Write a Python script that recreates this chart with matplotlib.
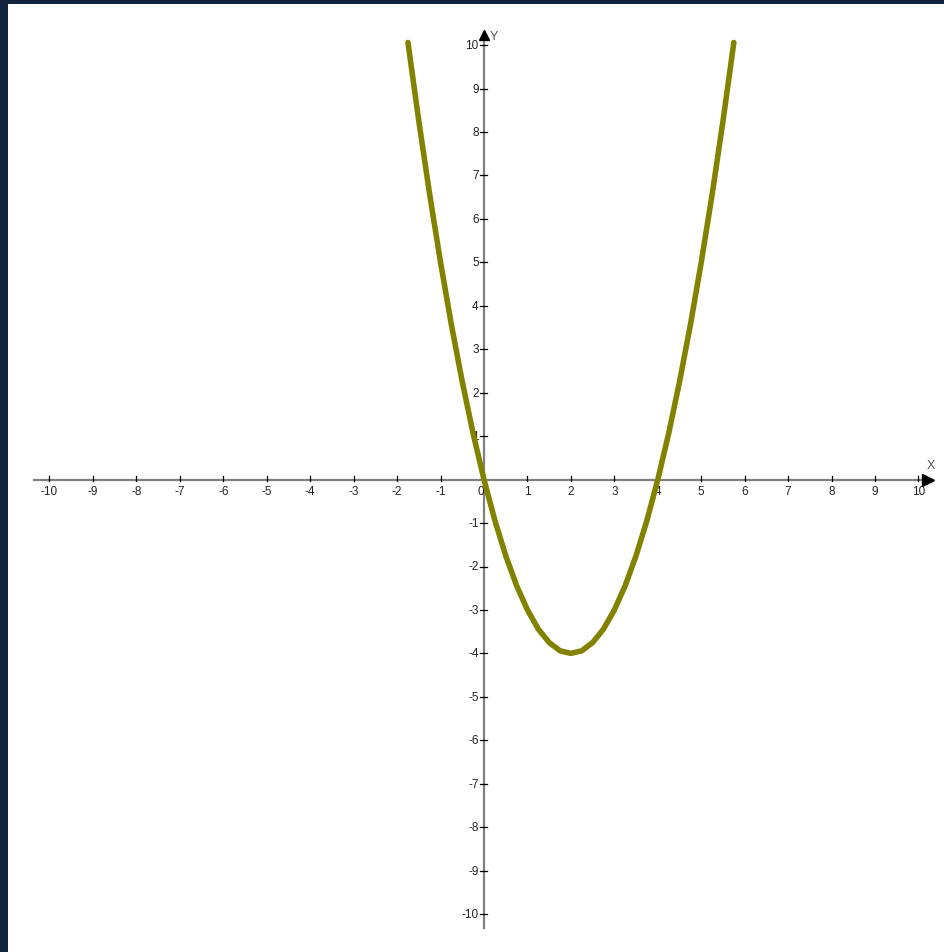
import matplotlib
matplotlib.use("Agg")
import matplotlib.pyplot as plt

curve_x = [-1.75, -1.5, -1.25, -1.0, -0.75, -0.5, -0.25, 0.0, 0.25, 0.5, 0.75,
           1.0, 1.25, 1.5, 1.75, 2.0, 2.25, 2.5, 2.75, 3.0, 3.25, 3.5, 3.75,
           4.0, 4.25, 4.5, 4.75, 5.0, 5.25, 5.5, 5.75]
curve_y = [10.06, 8.25, 6.56, 5.0, 3.56, 2.25, 1.06, 0.0, -0.94, -1.75, -2.44,
           -3.0, -3.44, -3.75, -3.94, -4.0, -3.94, -3.75, -3.44, -3.0, -2.44, -1.75, -0.94,
           0.0, 1.06, 2.25, 3.56, 5.0, 6.56, 8.25, 10.06]

tick_values = [-10, -9, -8, -7, -6, -5, -4, -3, -2, -1, 1, 2, 3, 4, 5, 6, 7, 8, 9, 10]

plt.rcParams["font.family"] = ["Liberation Sans", "DejaVu Sans"]

W, H = 945, 953
unit = 43.45          # pixels per unit
ox, oy = 484.0, 480.6  # pixel position of origin
left, top = 8, 5       # white panel starts here

fig = plt.figure(figsize=(W / 100, H / 100), dpi=100, facecolor="#10243f")
ax = fig.add_axes((left / W, 0, (W - left) / W, (H - top) / H))
ax.set_facecolor("white")
ax.set_xlim((left - ox) / unit, (W - ox) / unit)
ax.set_ylim((oy - H) / unit, (oy - top) / unit)
for sp in ax.spines.values():
    sp.set_visible(False)
ax.set_xticks([])
ax.set_yticks([])

axis_col = "#808080"
txt_col = "#222222"
tl = 3.5 / unit  # half tick length

# axes lines
ax.plot([-10.36, 10.2], [0, 0], color=axis_col, lw=1.6, zorder=2)
ax.plot([0, 0], [-10.33, 10.2], color=axis_col, lw=1.6, zorder=2)
ax.plot(10.22, 0, marker=">", ms=8, color="black", zorder=3)
ax.plot(0, 10.24, marker="^", ms=7, color="black", zorder=3)
ax.text(10.2, 0.2, "X", fontsize=9, color="#555555", ha="left", va="bottom")
ax.text(0.12, 10.22, "Y", fontsize=9, color="#555555", ha="left", va="center")

for v in tick_values:
    ax.plot([v, v], [-tl * 0.4, tl], color="black", lw=0.9, zorder=3)
    ax.text(v, -0.12, str(v), fontsize=8.5, color=txt_col, ha="center", va="top")
    ax.plot([-tl, tl], [v, v], color="black", lw=0.9, zorder=3)
    ax.text(-0.12, v, str(v), fontsize=8.5, color=txt_col, ha="right", va="center")
ax.text(-0.08, -0.12, "0", fontsize=8.5, color=txt_col, ha="center", va="top")

ax.plot(curve_x, curve_y, color="#828200", lw=4.0, solid_capstyle="round",
        solid_joinstyle="round", zorder=4)

fig.savefig("out.png", dpi=100, facecolor=fig.get_facecolor())
